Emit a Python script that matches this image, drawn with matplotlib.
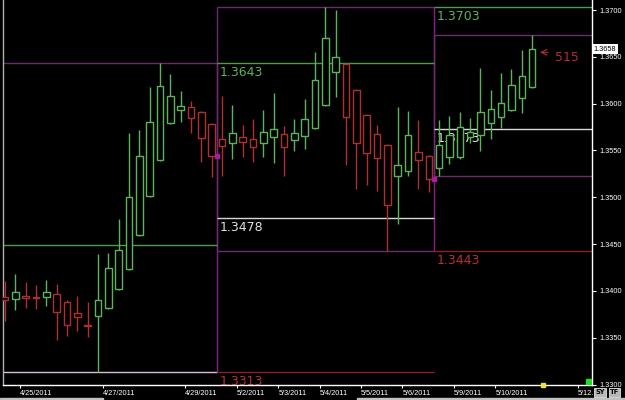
import matplotlib
matplotlib.use('Agg')
import matplotlib.pyplot as plt  # 시각화를 위한 matplotlib
import matplotlib.transforms as mtransforms
from matplotlib.patches import Rectangle
import numpy as np  # 수치 계산

# 6시간봉 OHLC 데이터 (EUR/USD 스타일)
opens = [1.3393, 1.3391, 1.3395, 1.3394, 1.3393, 1.3397, 1.3388, 1.3376, 1.3364, 1.3373,
         1.3382, 1.3402, 1.3423, 1.3460, 1.3501, 1.3540, 1.3579, 1.3593, 1.3596, 1.3591,
         1.3578, 1.3562, 1.3558, 1.3564, 1.3562, 1.3558, 1.3564, 1.3568, 1.3561, 1.3565,
         1.3574, 1.3599, 1.3634, 1.3642, 1.3615, 1.3588, 1.3568, 1.3556, 1.3523, 1.3528,
         1.3548, 1.3544, 1.3531, 1.3543, 1.3543, 1.3564, 1.3567, 1.3579, 1.3586, 1.3593,
         1.3606, 1.3618]
highs = [1.3411, 1.3418, 1.3410, 1.3406, 1.3412, 1.3407, 1.3390, 1.3395, 1.3388, 1.3439,
         1.3441, 1.3477, 1.3569, 1.3572, 1.3618, 1.3643, 1.3632, 1.3614, 1.3603, 1.3592,
         1.3579, 1.3608, 1.3599, 1.3577, 1.3584, 1.3593, 1.3611, 1.3576, 1.3584, 1.3605,
         1.3655, 1.3703, 1.3700, 1.3643, 1.3616, 1.3589, 1.3577, 1.3557, 1.3596, 1.3592,
         1.3583, 1.3545, 1.3583, 1.3587, 1.3591, 1.3585, 1.3638, 1.3615, 1.3633, 1.3637,
         1.3657, 1.3673]
lows = [1.3368, 1.3380, 1.3382, 1.3381, 1.3384, 1.3348, 1.3352, 1.3357, 1.3351, 1.3313,
        1.3381, 1.3401, 1.3422, 1.3459, 1.3500, 1.3539, 1.3578, 1.3580, 1.3569, 1.3538,
        1.3522, 1.3523, 1.3541, 1.3543, 1.3538, 1.3543, 1.3537, 1.3523, 1.3549, 1.3552,
        1.3573, 1.3598, 1.3607, 1.3534, 1.3509, 1.3513, 1.3507, 1.3443, 1.3471, 1.3523,
        1.3509, 1.3506, 1.3523, 1.3536, 1.3541, 1.3558, 1.3549, 1.3562, 1.3574, 1.3592,
        1.3590, 1.3617]
closes = [1.3390, 1.3399, 1.3392, 1.3392, 1.3399, 1.3378, 1.3364, 1.3372, 1.3363, 1.3390,
          1.3424, 1.3444, 1.3500, 1.3544, 1.3580, 1.3619, 1.3608, 1.3597, 1.3585, 1.3563,
          1.3544, 1.3555, 1.3569, 1.3559, 1.3554, 1.3570, 1.3573, 1.3554, 1.3569, 1.3584,
          1.3625, 1.3670, 1.3650, 1.3586, 1.3558, 1.3547, 1.3542, 1.3492, 1.3534, 1.3567,
          1.3540, 1.3519, 1.3556, 1.3566, 1.3575, 1.3570, 1.3591, 1.3594, 1.3601, 1.3620,
          1.3630, 1.3658]

# 세션(박스) 시작 인덱스와 이전 박스 고점
session_starts = [0, 21, 42]
prev_box_high = 1.3449

# x축 날짜 라벨 (마지막 라벨은 화면에서 잘려 보임)
date_pos = [1.45, 9.45, 17.45, 22.45, 26.45, 30.45, 34.45, 38.45, 43.45, 47.45, 55.45]
date_labels = ['4/25/2011', '4/27/2011', '4/29/2011', '5/2/2011', '5/3/2011', '5/4/2011',
               '5/5/2011', '5/6/2011', '5/9/2011', '5/10/2011', '5/12.']
price_ticks = [1.3300, 1.3350, 1.3400, 1.3450, 1.3500, 1.3550, 1.3600, 1.3650, 1.3700]

GREEN = '#5cb35c'
RED = '#b03030'
PURPLE = '#6b2d6b'
MAGENTA = '#8a1e8a'
LINE_GREEN = '#4c9c4c'
LINE_RED = '#8c2020'

fig = plt.figure(figsize=(6.25, 4), dpi=100, facecolor='black')
ax = fig.add_axes([3 / 625, 15 / 400, 589 / 625, 385 / 400], facecolor='black')

o = np.array(opens)
h = np.array(highs)
l = np.array(lows)
c = np.array(closes)
x = np.arange(len(o))
colors = [GREEN if cc >= oo else RED for oo, cc in zip(o, c)]

x_left, x_right = -0.19, 56.8

# 박스 경계
bounds = [x_left] + [s - 0.5 for s in session_starts[1:]] + [x_right]
box_hi = [h[s:e].max() for s, e in zip(session_starts, session_starts[1:] + [len(h)])]
box_lo = [l[s:e].min() for s, e in zip(session_starts, session_starts[1:] + [len(l)])]

# 세션 박스 (고점/저점 라인)
for i in range(len(session_starts)):
    x0, x1 = bounds[i], bounds[i + 1]
    ax.hlines(box_hi[i], x0, x1, colors=PURPLE, linewidth=1, zorder=1)
    lo_col = '#d8c0d8' if i == 0 else PURPLE
    ax.hlines(box_lo[i], x0, x1, colors=lo_col, linewidth=1, zorder=1)
    if i > 0:
        ax.vlines(x0, box_lo[i], box_hi[i], colors=PURPLE, linewidth=1, zorder=1)
    if i < len(session_starts) - 1:
        ax.vlines(x1, box_lo[i], box_hi[i], colors=MAGENTA, linewidth=1, zorder=1)

# 이전 박스 고점/중간/저점 라인
ax.hlines(prev_box_high, bounds[0], bounds[1], colors=LINE_GREEN, linewidth=1, zorder=1)
for i in range(1, len(session_starts)):
    x0, x1 = bounds[i], bounds[i + 1]
    ph, pl = box_hi[i - 1], box_lo[i - 1]
    pm = (ph + pl) / 2
    ax.hlines(ph, x0, x1, colors=LINE_GREEN, linewidth=1, zorder=1.5)
    ax.hlines(pm, x0, x1, colors='#d8d8d8', linewidth=1, zorder=1.5)
    ax.hlines(pl, x0, x1, colors=LINE_RED, linewidth=1, zorder=1.5)
    for val, col in [(ph, '#5cb35c'), (pm, '#e0e0e0'), (pl, '#b83030')]:
        ax.annotate(f'{val:.4f}', xy=(x0, val), xytext=(3, -3), textcoords='offset pixels',
                    color=col, fontsize=9, ha='left', va='top', zorder=2)
    # 세션 시작 마커 (이전 종가)
    ax.plot(x0, c[session_starts[i] - 1], 's', color='#a020a0', markersize=3, zorder=6)

# 캔들
ax.vlines(x, l, h, colors=colors, linewidth=1, zorder=3)
ax.bar(x, np.maximum(np.abs(c - o), 0.00004), bottom=np.minimum(o, c), width=0.62,
       color='black', edgecolor=colors, linewidth=1, zorder=4)

# 515 화살표 표시
ax.annotate('', xy=(51.5, 1.36548), xytext=(52.8, 1.36548),
            arrowprops=dict(arrowstyle='->', color=RED, lw=0.8), zorder=6)
ax.text(53.2, 1.3649, '515', color=RED, fontsize=9, ha='left', va='center', zorder=6)

ax.set_xlim(x_left, x_right)
ax.set_ylim(1.32995, 1.37107)

# 축 스타일
ax.yaxis.tick_right()
ax.set_yticks(price_ticks)
ax.set_yticklabels([f'{v:.4f}' for v in price_ticks], fontfamily='Liberation Sans')
ax.tick_params(axis='y', colors='white', labelsize=5.3, length=3, pad=2, width=0.8)
ax.set_xticks(date_pos)
ax.set_xticklabels(date_labels, fontfamily='Liberation Sans', ha='left')
ax.tick_params(axis='x', colors='white', labelsize=5.3, length=2, pad=1.5, width=0.8)
ax.spines['top'].set_visible(False)
ax.spines['right'].set_color('white')
ax.spines['bottom'].set_color('white')
ax.spines['left'].set_color('#b0b0b0')
for s in ['right', 'bottom', 'left']:
    ax.spines[s].set_linewidth(1)

# 현재가 라벨
trans = mtransforms.blended_transform_factory(ax.transAxes, ax.transData)
ax.text(1.003, c[-1] + 0.00002, f'{c[-1]:.4f}', transform=trans, color='black',
        fontsize=5.3, fontfamily='Liberation Sans', ha='left', va='center', zorder=10,
        clip_on=False, bbox=dict(facecolor='white', edgecolor='none', pad=1.2))

# 오른쪽 아래 표시들
ax.plot(52.07, 1.32995, 's', color='#f0e040', markersize=2.5, clip_on=False, zorder=7)
ax.add_patch(Rectangle((0.9898, 0), 6 / 589, 6 / 385, transform=ax.transAxes,
                       color='#22dd22', zorder=7))
fig.text(595 / 625, 7.5 / 400, 'SY', fontsize=4.8, color='black', fontweight='bold',
         ha='left', va='center', zorder=10,
         bbox=dict(facecolor='#b8b8b8', edgecolor='white', pad=0.8, linewidth=0.5))
fig.text(610 / 625, 7.5 / 400, 'TF', fontsize=4.8, color='black', fontweight='bold',
         ha='left', va='center', zorder=10,
         bbox=dict(facecolor='#b8b8b8', edgecolor='white', pad=0.8, linewidth=0.5))

# 하단 스크롤바
fig.patches.append(Rectangle((0, 0), 103 / 625, 2.5 / 400, transform=fig.transFigure,
                             color='#c0c0c0', zorder=5))
fig.patches.append(Rectangle((357 / 625, 0), 268 / 625, 2.5 / 400, transform=fig.transFigure,
                             color='#c0c0c0', zorder=5))

plt.savefig('out.png', dpi=100, facecolor='black')
plt.close()
